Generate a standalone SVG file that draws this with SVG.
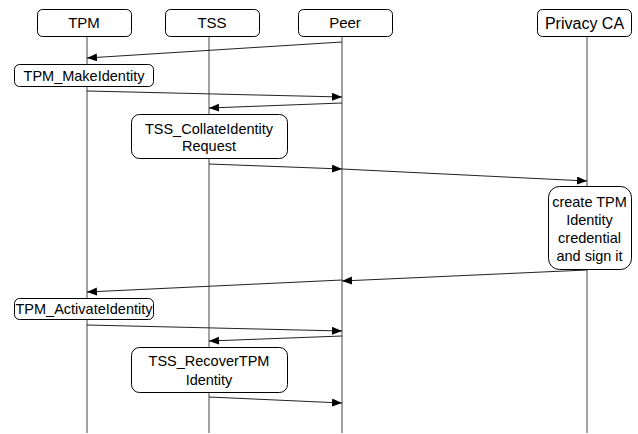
<svg xmlns="http://www.w3.org/2000/svg" width="638" height="434" viewBox="0 0 638 434">
<style>
.box{fill:#fff;stroke:#000;stroke-width:1}
.life{stroke:#444;stroke-width:1;fill:none}
.msg{stroke:#222;stroke-width:1;fill:none;marker-end:url(#ah)}
text{font-family:"Liberation Sans",Arial,sans-serif;font-size:14.5px;fill:#000;text-anchor:middle}
.hd{font-size:15px}
</style>
<defs>
<marker id="ah" markerUnits="userSpaceOnUse" markerWidth="11" markerHeight="9" refX="10" refY="4" orient="auto">
<path d="M0,0 L10,4 L0,8 z" fill="#000"/>
</marker>
</defs>
<rect width="638" height="434" fill="#fff"/>
<g id="TPM">
<line class="life" x1="87" y1="36" x2="87" y2="433"/>
<rect class="box" x="37.5" y="9.5" width="94" height="27" rx="5"/>
<text class="hd" x="84" y="28">TPM</text>
</g>
<g id="TSS">
<line class="life" x1="209" y1="36" x2="209" y2="433"/>
<rect class="box" x="165.5" y="9.5" width="94" height="27" rx="5"/>
<text class="hd" x="212" y="28">TSS</text>
</g>
<g id="Peer">
<line class="life" x1="342" y1="36" x2="342" y2="433"/>
<rect class="box" x="298.5" y="9.5" width="94" height="27" rx="5"/>
<text class="hd" x="345" y="28">Peer</text>
</g>
<g id="PrivacyCA">
<line class="life" x1="587" y1="36" x2="587" y2="433"/>
<rect class="box" x="537.5" y="9.5" width="94" height="27" rx="5"/>
<text class="hd" x="584.5" y="28.5" style="font-size:16px">Privacy CA</text>
</g>
<g id="connectors">
<line class="msg" x1="342" y1="42" x2="87" y2="58"/>
<line class="msg" x1="87" y1="91" x2="342" y2="97"/>
<line class="msg" x1="342" y1="103" x2="209" y2="108"/>
<line class="msg" x1="209" y1="164" x2="342" y2="169"/>
<line class="msg" x1="342" y1="169" x2="587" y2="181"/>
<line class="msg" x1="587" y1="270" x2="342" y2="281"/>
<line class="msg" x1="342" y1="280" x2="87" y2="292"/>
<line class="msg" x1="87" y1="325" x2="342" y2="331"/>
<line class="msg" x1="342" y1="336" x2="209" y2="341"/>
<line class="msg" x1="209" y1="397" x2="342" y2="403"/>
</g>
<g id="TPM_MakeIdentity">
<rect class="box" x="14.5" y="64.5" width="139" height="22" rx="5"/>
<text x="84" y="80.5">TPM_MakeIdentity</text>
</g>
<g id="TSS_CollateIdentityRequest">
<rect class="box" x="131.5" y="114.5" width="156" height="44" rx="8"/>
<text x="209" y="133.5">TSS_CollateIdentity</text>
<text x="209" y="151">Request</text>
</g>
<g id="CreateCredential">
<rect class="box" x="548.5" y="186.5" width="83" height="83" rx="11"/>
<text x="589.5" y="207">create TPM</text>
<text x="589.5" y="225">Identity</text>
<text x="589.5" y="242.5">credential</text>
<text x="589.5" y="260.5">and sign it</text>
</g>
<g id="TPM_ActivateIdentity">
<rect class="box" x="14.5" y="298.5" width="139" height="21" rx="5"/>
<text x="84" y="314">TPM_ActivateIdentity</text>
</g>
<g id="TSS_RecoverTPMIdentity">
<rect class="box" x="131.5" y="347.5" width="156" height="45" rx="8"/>
<text x="209" y="366">TSS_RecoverTPM</text>
<text x="209" y="384.5">Identity</text>
</g>
</svg>
